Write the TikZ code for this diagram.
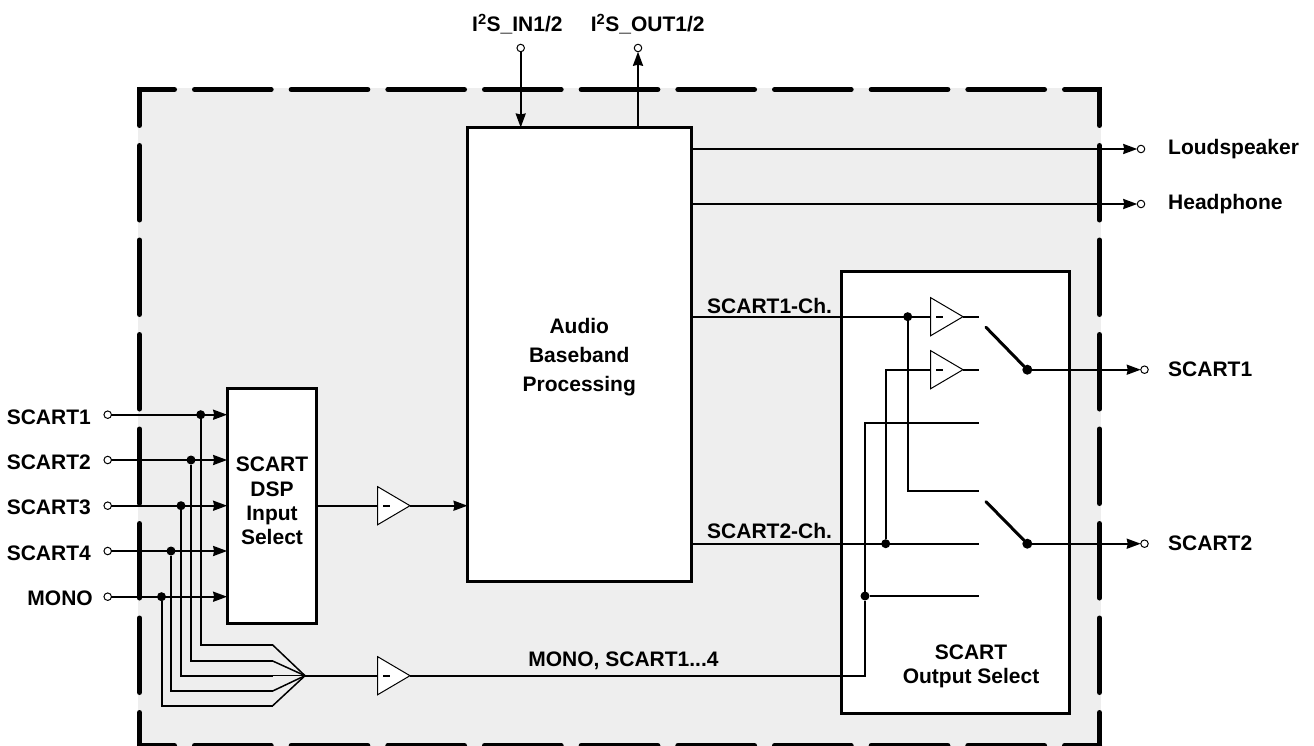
\documentclass[tikz,border=0pt]{standalone}
\usepackage{fontspec}
\setmainfont{Liberation Sans}
\usepackage{xcolor}
\usetikzlibrary{shapes.geometric,arrows.meta,positioning,calc}
\definecolor{chipgrey}{RGB}{238,238,238}

\begin{document}
\begin{tikzpicture}[
    x=1pt, y=-1pt,
    >={Stealth[length=14pt,width=10pt,inset=1pt]},
    wire/.style={line width=2pt},
    frameline/.style={line width=5pt, line cap=round},
    hframe/.style={frameline, dash pattern=on 76.67pt off 20pt, dash phase=41.67pt},
    vframe/.style={frameline, dash pattern=on 74.5pt off 20pt, dash phase=38.5pt},
    block/.style={rectangle, draw, fill=white, line width=3pt, inner sep=0pt, outer sep=0pt},
    amp/.style={isosceles triangle, isosceles triangle stretches, shape border rotate=0,
        draw, fill=white, line width=1pt, inner sep=0pt, outer sep=0pt,
        minimum width=38pt, minimum height=32.3pt, anchor=lower side},
    term/.style={circle, draw, fill=white, line width=1pt, inner sep=0pt, outer sep=0pt, minimum size=7.5pt},
    dot/.style={circle, fill=black, inner sep=0pt, outer sep=0pt, minimum size=9pt},
    bigdot/.style={dot, minimum size=10pt},
    lbl/.style={inner sep=0pt, font=\fontsize{21}{24.3}\selectfont\bfseries, align=center}
]
\clip (0,0) rectangle (1314,746);

% chip outline
\fill[chipgrey] (138,88) rectangle (1101,750);
\draw[hframe] (139.5,89.5) -- (1099.5,89.5);
\draw[hframe] (139.5,745.5) -- (1099.5,745.5);
\draw[vframe] (139.5,89.5) -- (139.5,745.5);
\draw[vframe] (1099.5,89.5) -- (1099.5,745.5);
\draw[line width=5pt] (139.5,105) |- (155,89.5);
\draw[line width=5pt] (1099.5,105) |- (1084,89.5);

% blocks
\node[block, minimum width=223.5pt, minimum height=453.5pt] (audio) at (579.25,354.25) {};
\node[block, minimum width=89.7pt, minimum height=234.6pt] (dspsel) at (272,506) {};
\node[block, minimum width=227.3pt, minimum height=442.7pt] (outsel) at (955.6,492.6) {};
\node[lbl, font=\fontsize{21}{29}\selectfont\bfseries] (audiotxt) at ([yshift=-3pt]audio.center) {Audio\\Baseband\\Processing};
\node[lbl] (dsptxt) at ([yshift=5pt]dspsel.center) {SCART\\DSP\\Input\\Select};
\node[lbl] (outtxt) at (971,666) {SCART\\Output Select};

% inputs
\node[term] (ina) at (107.7,414.7) {};
\node[term] (inb) at (107.7,460) {};
\node[term] (inc) at (107.7,505.7) {};
\node[term] (ind) at (107.7,551) {};
\node[term] (ine) at (107.7,596.7) {};
\node[lbl, anchor=east] (inatxt) at (91,417) {SCART1};
\node[lbl, anchor=east] (inbtxt) at (91,462) {SCART2};
\node[lbl, anchor=east] (inctxt) at (91,507.5) {SCART3};
\node[lbl, anchor=east] (indtxt) at (91,553) {SCART4};
\node[lbl, anchor=east] (inetxt) at (93,598.5) {MONO};
\node[dot] (juna) at (200.7,414.7) {};
\node[dot] (junb) at (191,460) {};
\node[dot] (junc) at (181,505.7) {};
\node[dot] (jund) at (171,551) {};
\node[dot] (june) at (161.5,596.7) {};

\draw[wire,->] (ina) -- (ina -| dspsel.west);
\draw[wire,->] (inb) -- (inb -| dspsel.west);
\draw[wire,->] (inc) -- (inc -| dspsel.west);
\draw[wire,->] (ind) -- (ind -| dspsel.west);
\draw[wire,->] (ine) -- (ine -| dspsel.west);

% mono bus
\coordinate (merge) at (305,675.7);
\coordinate (busa) at (272.7,645);
\coordinate (busb) at (272.7,661);
\coordinate (busc) at (272.7,675.7);
\coordinate (busd) at (272.7,691);
\coordinate (buse) at (272.7,705.7);
\draw[wire] (juna) |- (busa);
\draw[wire] (junb) |- (busb);
\draw[wire] (junc) |- (busc);
\draw[wire] (jund) |- (busd);
\draw[wire] (june) |- (buse);
\draw[line width=1.5pt] (busa) -- (merge);
\draw[line width=1.5pt] (busb) -- (merge);
\draw[line width=1.5pt] (busc) -- (merge);
\draw[line width=1.5pt] (busd) -- (merge);
\draw[line width=1.5pt] (buse) -- (merge);

% amplifiers
\node[amp] (ampdsp) at (377.7,505.7) {};
\node[amp] (ampmono) at (377.7,675.7) {};
\node[amp] (ampa) at (930.7,316.7) {};
\node[amp] (ampb) at (930.7,369.7) {};
\draw[line width=2pt] ([xshift=5.5pt]ampdsp.lower side) -- ++(7,0);
\draw[line width=2pt] ([xshift=5.5pt]ampmono.lower side) -- ++(7,0);
\draw[line width=2pt] ([xshift=5.5pt]ampa.lower side) -- ++(7,0);
\draw[line width=2pt] ([xshift=5.5pt]ampb.lower side) -- ++(7,0);

\draw[wire] (dspsel.east |- ampdsp.lower side) -- (ampdsp.lower side);
\draw[wire,->] (ampdsp.apex) -- (ampdsp.apex -| audio.west);
\draw[wire] (merge) -- (ampmono.lower side);

% output select
\coordinate (taba) at (978.7,316.7);
\coordinate (tabb) at (978.7,369.7);
\coordinate (tabc) at (978.7,422.7);
\coordinate (tabd) at (978.7,490.7);
\coordinate (tabe) at (978.7,543.7);
\coordinate (tabf) at (978.7,596);
\coordinate (swa) at (986,327.3);
\coordinate (swb) at (986,501.7);
\node[dot] (junch) at (907.7,316.7) {};
\node[dot] (junci) at (885.7,543.7) {};
\node[dot] (junmono) at (865,596) {};
\node[bigdot] (outa) at (1027.3,369.7) {};
\node[bigdot] (outb) at (1027.3,543.7) {};

\draw[wire] (junch -| audio.east) -- (ampa.lower side);
\draw[wire] (ampa.apex) -- (taba);
\draw[wire] (ampb.apex) -- (tabb);
\draw[wire] (junci) |- (ampb.lower side);
\draw[wire] (junci -| audio.east) -- (tabe);
\draw[wire] (junch) |- (tabd);
\draw[wire] (ampmono.apex) -| (junmono) |- (tabc);
\draw[wire] (junmono) -- (tabf);
\draw[line width=3pt, line cap=round] (swa) -- (outa);
\draw[line width=3pt, line cap=round] (swb) -- (outb);

% outputs
\node[term] (lsp) at (1141,149) {};
\node[term] (hph) at (1141,204) {};
\node[term] (scao) at (1144.5,369.7) {};
\node[term] (scbo) at (1144.5,543.7) {};
\draw[wire,->] (lsp -| audio.east) -- (lsp);
\draw[wire,->] (hph -| audio.east) -- (hph);
\draw[wire,->] (outa) -- (scao);
\draw[wire,->] (outb) -- (scbo);
\node[lbl, anchor=west] (lsptxt) at (1168,149) {Loudspeaker};
\node[lbl, anchor=west] (hphtxt) at (1168,204) {Headphone};
\node[lbl, anchor=west] (scaotxt) at (1168,369) {SCART1};
\node[lbl, anchor=west] (scbotxt) at (1168,543) {SCART2};

% digital audio
\node[term] (i2sin) at (520.7,48) {};
\node[term] (i2sout) at (638,48) {};
\draw[wire,->] (i2sin) -- (i2sin |- audio.north);
\draw[wire,->] (i2sout |- audio.north) -- (i2sout);
\node[lbl, anchor=west] (i2sintxt) at (472,24) {I\textsuperscript{2}S\_IN1/2};
\node[lbl, anchor=west] (i2souttxt) at (590.7,24) {I\textsuperscript{2}S\_OUT1/2};

% wire labels
\node[lbl, anchor=west] (chatxt) at (707,306) {SCART1-Ch.};
\node[lbl, anchor=west] (chbtxt) at (707,531) {SCART2-Ch.};
\node[lbl] (monotxt) at (623.5,660.5) {MONO, SCART1...4};
\end{tikzpicture}
\end{document}
